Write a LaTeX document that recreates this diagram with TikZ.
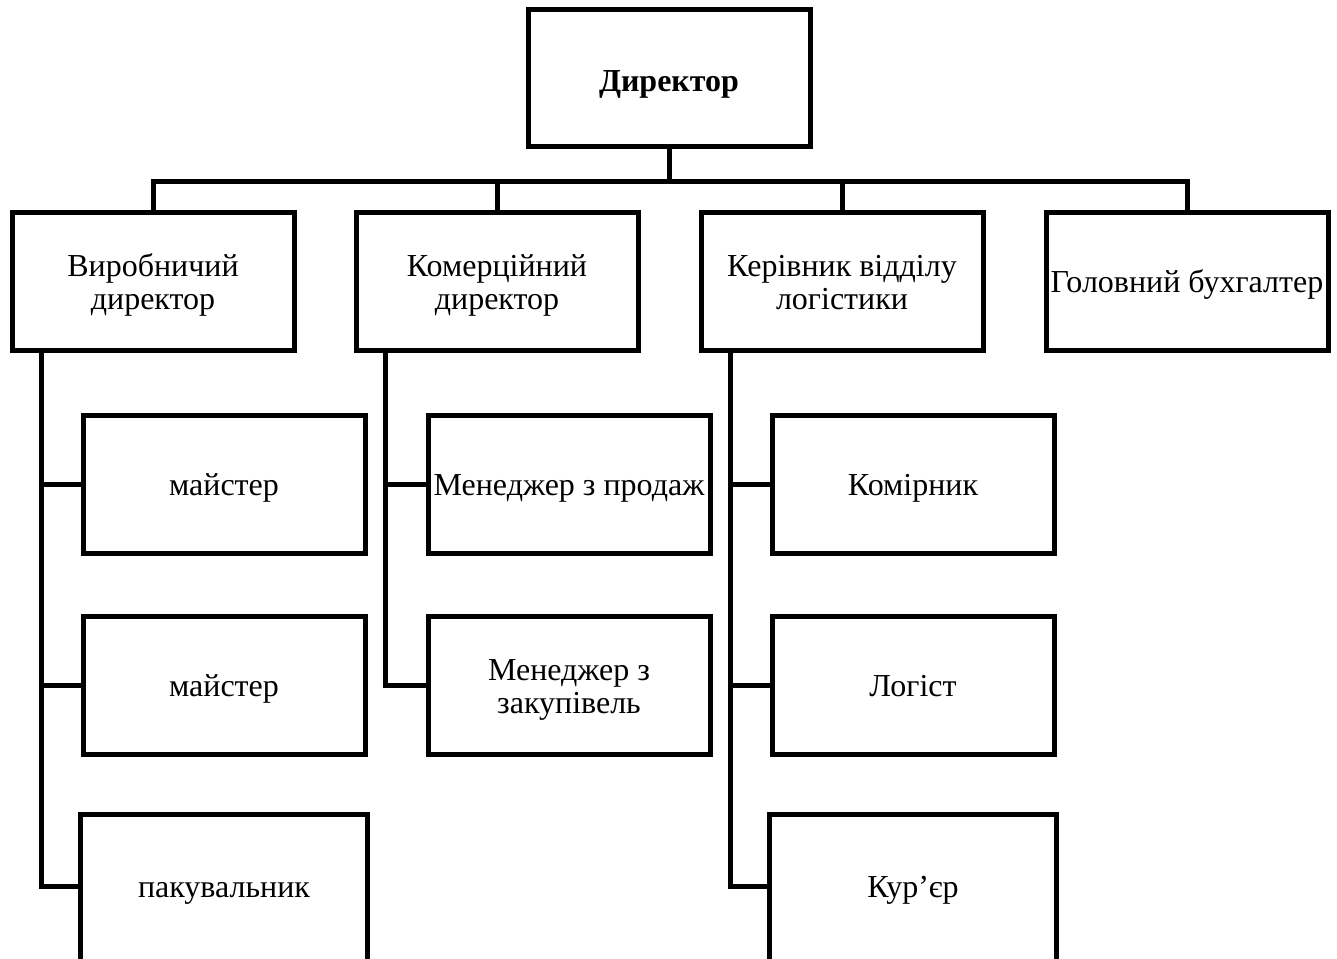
\documentclass[tikz,border=0pt]{standalone}
\usepackage{fontspec}
\setmainfont{Liberation Serif}
\newcommand\boxstrut{\rule[-9pt]{0pt}{40pt}}
\newcommand\topstrut{\rule[-8pt]{0pt}{43pt}}
\newcommand\twolines[2]{\raisebox{0pt}[\dimexpr\height+10pt\relax][\depth]{\begin{tabular}{@{}c@{}}#1\\#2\end{tabular}}}
\begin{document}
\begin{tikzpicture}[x=1pt,y=-1pt,
  box/.style={draw,line width=5pt,minimum width=282pt,minimum height=138pt,inner sep=0pt,align=center,
    font=\fontsize{32}{33}\selectfont},
  one/.style={execute at begin node=\boxstrut,execute at end node=\boxstrut},
  topbox/.style={box,minimum height=137pt,font=\fontsize{32}{33}\selectfont\bfseries,
    execute at begin node=\topstrut,execute at end node=\topstrut},
  openbox/.style={box,one,draw=none},
  wire/.style={line width=5pt}]
\useasboundingbox (0,0) rectangle (1337,958);
\clip (0,0) rectangle (1337,958);
\fill[white] (0,0) rectangle (1337,958);
% top
\node[topbox] (d) at (669,78) {Директор};
% level 2
\node[box] (a) at (153,281) {\twolines{Виробничий}{директор}};
\node[box] (b) at (497,281) {\twolines{Комерційний}{директор}};
\node[box] (c) at (842,281) {\twolines{Керівник відділу}{логістики}};
\node[box,one] (g) at (1187,281) {Головний бухгалтер};
% level 3
\node[box,one] (m1) at (224,484) {майстер};
\node[box,one] (m2) at (224,685) {майстер};
\node[openbox] (m3) at (224,886) {пакувальник};
\node[box,one] (s1) at (569,484) {Менеджер з продаж};
\node[box] (s2) at (569,685) {\twolines{Менеджер з}{закупівель}};
\node[box,one] (l1) at (913,484) {Комірник};
\node[box,one] (l2) at (913,685) {Логіст};
\node[openbox] (l3) at (913,886) {Кур’єр};
\coordinate (low) at (0,990);
\draw[wire] (m3.west |- low) -- (m3.north west) -- (m3.north east) -- (m3.east |- low);
\draw[wire] (l3.west |- low) -- (l3.north west) -- (l3.north east) -- (l3.east |- low);
% bus
\coordinate (bus) at (669,181);
\draw[wire] (d.south) -- (bus);
\draw[wire] (a.north) |- (bus) -| (g.north);
\draw[wire] (b.north) -- (b.north |- bus);
\draw[wire] (c.north) -- (c.north |- bus);
% spines
\coordinate (x1) at (41,0);
\coordinate (x2) at (385,0);
\coordinate (x3) at (730,0);
\draw[wire] (a.south -| x1) |- (m3.west);
\draw[wire] (x1 |- m1.west) -- (m1.west);
\draw[wire] (x1 |- m2.west) -- (m2.west);
\draw[wire] (b.south -| x2) |- (s2.west);
\draw[wire] (x2 |- s1.west) -- (s1.west);
\draw[wire] (c.south -| x3) |- (l3.west);
\draw[wire] (x3 |- l1.west) -- (l1.west);
\draw[wire] (x3 |- l2.west) -- (l2.west);
\end{tikzpicture}
\end{document}
